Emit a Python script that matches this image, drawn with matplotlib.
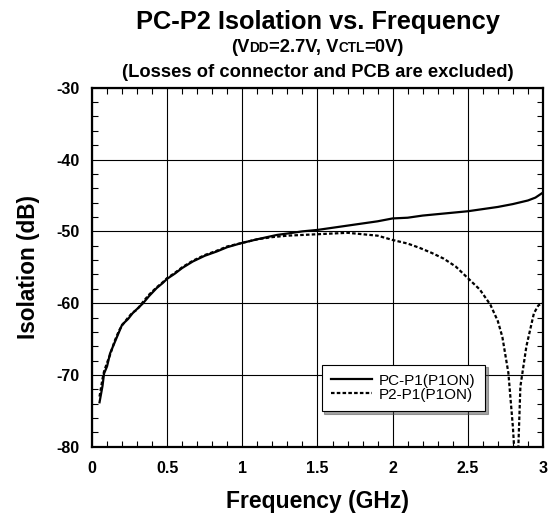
import matplotlib; matplotlib.use("Agg")
import matplotlib.pyplot as plt
from matplotlib.ticker import MultipleLocator, FixedFormatter, FixedLocator
from matplotlib.offsetbox import TextArea, HPacker, AnnotationBbox

plt.rcParams["font.family"] = ["Liberation Sans", "DejaVu Sans"]

# PC-P1 (P1ON) isolation, solid
pc_f = [0.05, 0.07, 0.08, 0.10, 0.12, 0.15, 0.18, 0.20, 0.24, 0.27, 0.30, 0.34, 0.38,
        0.43, 0.47, 0.50, 0.55, 0.60, 0.67, 0.75, 0.83, 0.90, 1.00, 1.10, 1.23, 1.30,
        1.40, 1.50, 1.60, 1.70, 1.80, 1.90, 2.00, 2.10, 2.20, 2.30, 2.40, 2.50, 2.60,
        2.70, 2.80, 2.90, 2.95, 3.00]
pc_db = [-73.8, -71.5, -69.8, -68.8, -67.0, -65.5, -64.0, -63.0, -62.2, -61.4, -60.8,
         -60.0, -59.0, -57.9, -57.2, -56.6, -55.9, -55.1, -54.2, -53.4, -52.8, -52.2,
         -51.6, -51.1, -50.5, -50.3, -50.0, -49.8, -49.5, -49.2, -48.9, -48.6, -48.2,
         -48.1, -47.8, -47.6, -47.4, -47.2, -46.9, -46.6, -46.2, -45.7, -45.3, -44.6]

# P2-P1 (P1ON) isolation, dotted
p2_f = [0.05, 0.07, 0.08, 0.10, 0.12, 0.15, 0.18, 0.20, 0.24, 0.27, 0.30, 0.34, 0.38,
        0.43, 0.47, 0.50, 0.55, 0.60, 0.67, 0.75, 0.83, 0.90, 1.00, 1.10, 1.20, 1.30,
        1.40, 1.50, 1.60, 1.70, 1.80, 1.90, 2.00, 2.10, 2.18, 2.26, 2.34, 2.42, 2.50,
        2.58, 2.65, 2.70, 2.73, 2.77, 2.80, 2.82, 2.83, 2.85, 2.89, 2.94, 2.97, 3.00]
p2_db = [-73.0, -70.5, -69.5, -68.3, -67.2, -65.3, -63.8, -63.1, -62.0, -61.3, -60.9,
         -59.8, -58.8, -57.8, -57.1, -56.5, -55.8, -55.0, -54.1, -53.3, -52.7, -52.1,
         -51.6, -51.1, -50.8, -50.6, -50.5, -50.4, -50.3, -50.2, -50.4, -50.6, -51.2,
         -51.7, -52.3, -53.0, -53.8, -54.9, -56.5, -58.1, -60.2, -62.5, -64.7, -69.7,
         -77.2, -84.0, -84.0, -71.6, -66.0, -61.4, -60.3, -60.0]

x_ticks = [0, 0.5, 1, 1.5, 2, 2.5, 3]
x_labels = ["0", "0.5", "1", "1.5", "2", "2.5", "3"]
y_ticks = [-80, -70, -60, -50, -40, -30]
y_labels = ["-80", "-70", "-60", "-50", "-40", "-30"]

fig = plt.figure(figsize=(5.56, 5.13), dpi=100)
ax = fig.add_axes([0.1655, 0.129, 0.811, 0.700])

ax.plot(pc_f, pc_db, color="black", lw=1.6, label="PC-P1(P1ON)", zorder=4)
ax.plot(p2_f, p2_db, color="black", lw=1.6, ls=(0, (1.6, 1.0)), label="P2-P1(P1ON)", zorder=4)

ax.set_xlim(0, 3)
ax.set_ylim(-80, -30)
ax.xaxis.set_major_locator(FixedLocator(x_ticks))
ax.xaxis.set_major_formatter(FixedFormatter(x_labels))
ax.yaxis.set_major_locator(FixedLocator(y_ticks))
ax.yaxis.set_major_formatter(FixedFormatter(y_labels))
ax.xaxis.set_minor_locator(MultipleLocator(0.1))
ax.yaxis.set_minor_locator(MultipleLocator(2))
ax.tick_params(which="both", direction="in", top=True, right=True, width=0.8)
ax.tick_params(which="major", length=0, labelsize=11.5)
ax.tick_params(axis="x", which="major", pad=10)
ax.tick_params(axis="y", which="major", pad=9)
ax.tick_params(which="minor", length=4)
for lbl in ax.get_xticklabels() + ax.get_yticklabels():
    lbl.set_fontweight("bold")
ax.grid(which="major", color="black", lw=0.8)
for s in ax.spines.values():
    s.set_linewidth(1.6)

ax.set_xlabel("Frequency (GHz)", fontsize=16.5, fontweight="bold", labelpad=10)
ax.set_ylabel("Isolation (dB)", fontsize=16.3, fontweight="bold", labelpad=12)

leg = ax.legend(loc="lower right", bbox_to_anchor=(0.871, 0.100), borderaxespad=0,
                fontsize=11, frameon=True, fancybox=False, shadow=True,
                handlelength=2.7, borderpad=0.6, labelspacing=0.0, handletextpad=0.45)
leg.get_frame().set_edgecolor("black")
leg.get_frame().set_linewidth(0.8)

fig.text(0.571, 0.957, "PC-P2 Isolation vs. Frequency", ha="center", va="center",
         fontsize=18.3, fontweight="bold")

big = dict(fontsize=13.2, fontweight="bold", color="black")
small = dict(fontsize=9.8, fontweight="bold", color="black")
parts = [TextArea("(V", textprops=big), TextArea("DD", textprops=small),
         TextArea("=2.7V, V", textprops=big), TextArea("CTL", textprops=small),
         TextArea("=0V)", textprops=big)]
box = HPacker(children=parts, align="baseline", pad=0, sep=0)
ab = AnnotationBbox(box, (0.571, 0.907), xycoords="figure fraction", frameon=False,
                    box_alignment=(0.5, 0.5))
fig.add_artist(ab)

fig.text(0.571, 0.858, "(Losses of connector and PCB are excluded)", ha="center",
         va="center", fontsize=13.2, fontweight="bold")

fig.savefig("out.png", dpi=100)
